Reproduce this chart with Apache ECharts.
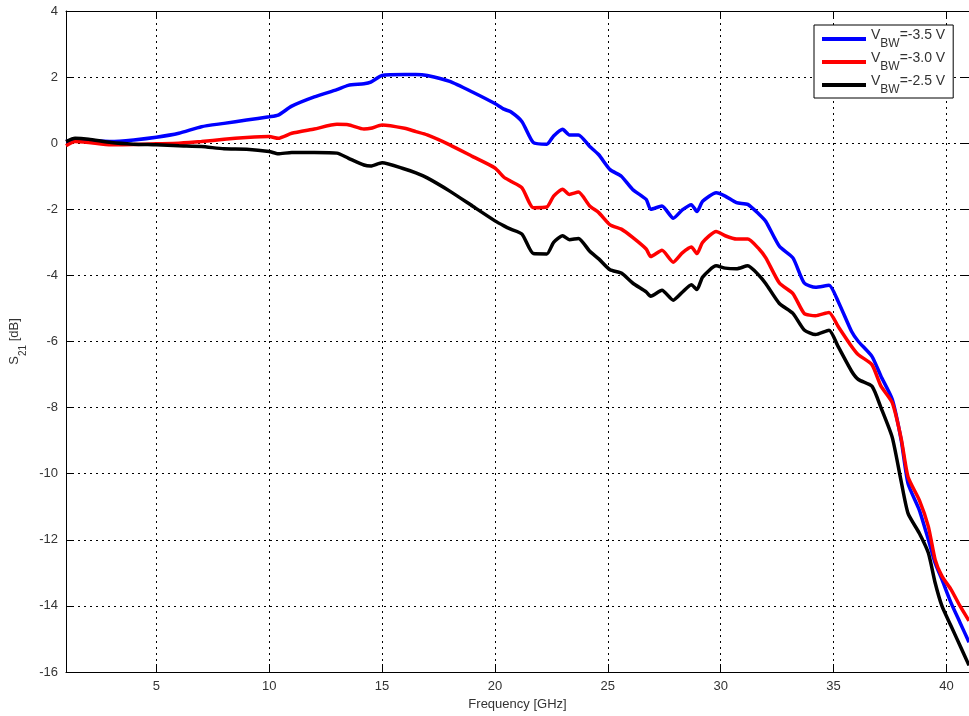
<!DOCTYPE html>
<html>
<head>
<meta charset="utf-8">
<script src="https://cdn.jsdelivr.net/npm/echarts@6/dist/echarts.min.js"></script>
<style>
html,body{margin:0;padding:0;background:#fff;}
#chart{width:969px;height:716px;}
</style>
</head>
<body>
<div id="chart"></div>
<script>
const freq = [1, 1.4, 2, 3, 4, 5, 6, 7, 8, 9, 10, 10.4, 11, 12, 13, 13.5, 14.2, 14.5, 15, 16, 16.5, 17, 18, 19, 20, 20.4, 20.7, 21.2, 21.7, 22.3, 22.6, 23, 23.3, 23.7, 24.2, 24.6, 25.1, 25.6, 26.1, 26.7, 26.9, 27.4, 27.9, 28.3, 28.7, 28.95, 29.2, 29.8, 30.2, 30.7, 31.2, 31.7, 32, 32.6, 33.2, 33.7, 34.2, 34.8, 35.2, 35.8, 36.1, 36.7, 37.1, 37.6, 38, 38.3, 38.8, 39.2, 39.5, 39.8, 40.2, 40.6, 41];

const vbw35 = [0.05, 0.08, 0.08, 0.05, 0.1, 0.18, 0.3, 0.5, 0.6, 0.7, 0.8, 0.85, 1.12, 1.4, 1.62, 1.75, 1.8, 1.85, 2.05, 2.08, 2.08, 2.05, 1.87, 1.55, 1.2, 1.03, 0.95, 0.65, 0.02, -0.03, 0.22, 0.42, 0.25, 0.25, -0.1, -0.35, -0.8, -1.0, -1.4, -1.7, -2.0, -1.9, -2.27, -2.02, -1.86, -2.07, -1.76, -1.5, -1.6, -1.8, -1.85, -2.15, -2.37, -3.12, -3.47, -4.23, -4.36, -4.3, -4.78, -5.7, -6.0, -6.45, -7.05, -7.75, -9.0, -10.3, -11.1, -12.0, -12.7, -13.2, -13.9, -14.5, -15.1];

const vbw30 = [-0.08, 0.05, 0.02, -0.05, -0.04, -0.02, 0.0, 0.05, 0.12, 0.17, 0.2, 0.15, 0.3, 0.43, 0.57, 0.56, 0.43, 0.45, 0.55, 0.45, 0.35, 0.25, -0.05, -0.4, -0.75, -1.03, -1.15, -1.35, -1.95, -1.93, -1.6, -1.39, -1.55, -1.48, -1.9, -2.1, -2.47, -2.6, -2.85, -3.2, -3.43, -3.24, -3.6, -3.32, -3.14, -3.34, -3.0, -2.67, -2.8, -2.9, -2.9, -3.2, -3.47, -4.23, -4.55, -5.15, -5.22, -5.12, -5.54, -6.15, -6.4, -6.7, -7.35, -7.85, -8.95, -10.1, -10.8, -11.6, -12.6, -13.1, -13.5, -14.0, -14.45];

const vbw25 = [0.05, 0.15, 0.12, 0.02, -0.03, -0.05, -0.08, -0.1, -0.17, -0.18, -0.25, -0.32, -0.28, -0.28, -0.3, -0.45, -0.66, -0.69, -0.59, -0.78, -0.9, -1.05, -1.45, -1.9, -2.35, -2.5, -2.6, -2.75, -3.34, -3.35, -3.0, -2.8, -2.92, -2.88, -3.27, -3.5, -3.83, -3.93, -4.23, -4.5, -4.63, -4.45, -4.75, -4.51, -4.28, -4.43, -4.05, -3.71, -3.78, -3.8, -3.71, -4.0, -4.25, -4.85, -5.15, -5.65, -5.79, -5.66, -6.15, -6.9, -7.15, -7.35, -8.0, -8.9, -10.25, -11.2, -11.8, -12.4, -13.3, -14.0, -14.6, -15.2, -15.8];

const xTicks = [5, 10, 15, 20, 25, 30, 35, 40];
const seriesNames = ['VBW=-3.5 V', 'VBW=-3.0 V', 'VBW=-2.5 V'];
const seriesColors = ['#0000ff', '#ff0000', '#000000'];
const seriesValues = [vbw35, vbw30, vbw25];

const chart = echarts.init(document.getElementById('chart'), null, {renderer: 'canvas'});
const font = 'Liberation Sans, Arial, Helvetica, sans-serif';
const gridLine = {show: true, lineStyle: {color: '#000', width: 1, type: [2, 4]}};

const option = {
  backgroundColor: '#fff',
  animation: false,
  grid: {left: 64, top: 11, width: 906, height: 662, containLabel: false},
  legend: {
    data: seriesNames,
    orient: 'vertical',
    left: 814,
    top: 25,
    backgroundColor: '#fff',
    borderColor: '#000',
    borderWidth: 1,
    padding: [3, 8, 2, 8],
    itemGap: 1,
    itemWidth: 44,
    itemHeight: 4,
    icon: 'rect',
    formatter: function (name) {
      const rest = name.slice(3);
      return '{v|V}{s|BW}{v|' + rest + '}';
    },
    textStyle: {
      fontFamily: font,
      color: '#333',
      rich: {
        v: {fontSize: 14, fontFamily: font, color: '#333', lineHeight: 22, verticalAlign: 'top', padding: [0, 0, 6, 0]},
        s: {fontSize: 12, fontFamily: font, color: '#333', lineHeight: 22, verticalAlign: 'bottom', padding: [6, 0, 0, 0]}
      }
    }
  },
  xAxis: [{
    type: 'value',
    min: 1,
    max: 41,
    position: 'bottom',
    name: 'Frequency [GHz]',
    nameLocation: 'middle',
    nameGap: 26,
    nameTextStyle: {fontFamily: font, fontSize: 13, color: '#333'},
    axisLine: {show: true, onZero: false, lineStyle: {color: '#000', width: 1}},
    axisTick: {show: true, inside: true, length: 8, customValues: xTicks, lineStyle: {color: '#000'}},
    axisLabel: {customValues: xTicks, fontFamily: font, fontSize: 13, color: '#333', margin: 8},
    splitLine: gridLine
  }, {
    type: 'value',
    min: 1,
    max: 41,
    position: 'top',
    axisLine: {show: true, onZero: false, lineStyle: {color: '#000', width: 1}},
    axisTick: {show: true, inside: true, length: 8, customValues: xTicks, lineStyle: {color: '#000'}},
    axisLabel: {show: false},
    splitLine: {show: false}
  }],
  yAxis: [{
    type: 'value',
    min: -16,
    max: 4,
    interval: 2,
    position: 'left',
    name: '{a|S}{b|21}{a| [dB]}',
    nameLocation: 'middle',
    nameGap: 38,
    nameRotate: 90,
    nameTextStyle: {
      fontFamily: font, fontSize: 13, color: '#333',
      padding: [0, 0, 0, 0],
      rich: {
        a: {fontSize: 13, fontFamily: font, color: '#333', lineHeight: 20, verticalAlign: 'top', padding: [0, 0, 5, 0]},
        b: {fontSize: 10, fontFamily: font, color: '#333', lineHeight: 20, verticalAlign: 'bottom', padding: [5, 0, 0, 0]}
      }
    },
    axisLine: {show: true, onZero: false, lineStyle: {color: '#000', width: 1}},
    axisTick: {show: true, inside: true, length: 8, lineStyle: {color: '#000'}},
    axisLabel: {fontFamily: font, fontSize: 13, color: '#333', margin: 8},
    splitLine: gridLine
  }, {
    type: 'value',
    min: -16,
    max: 4,
    interval: 2,
    position: 'right',
    axisLine: {show: true, onZero: false, lineStyle: {color: '#000', width: 1}},
    axisTick: {show: true, inside: true, length: 8, lineStyle: {color: '#000'}},
    axisLabel: {show: false},
    splitLine: {show: false}
  }],
  series: seriesNames.map(function (name, k) {
    return {
      name: name,
      type: 'line',
      xAxisIndex: 0,
      yAxisIndex: 0,
      showSymbol: false,
      symbol: 'none',
      smooth: 0.2,
      color: seriesColors[k],
      lineStyle: {color: seriesColors[k], width: 3.5},
      data: freq.map(function (f, i) { return [f, seriesValues[k][i]]; })
    };
  })
};
chart.setOption(option);
</script>
</body>
</html>
